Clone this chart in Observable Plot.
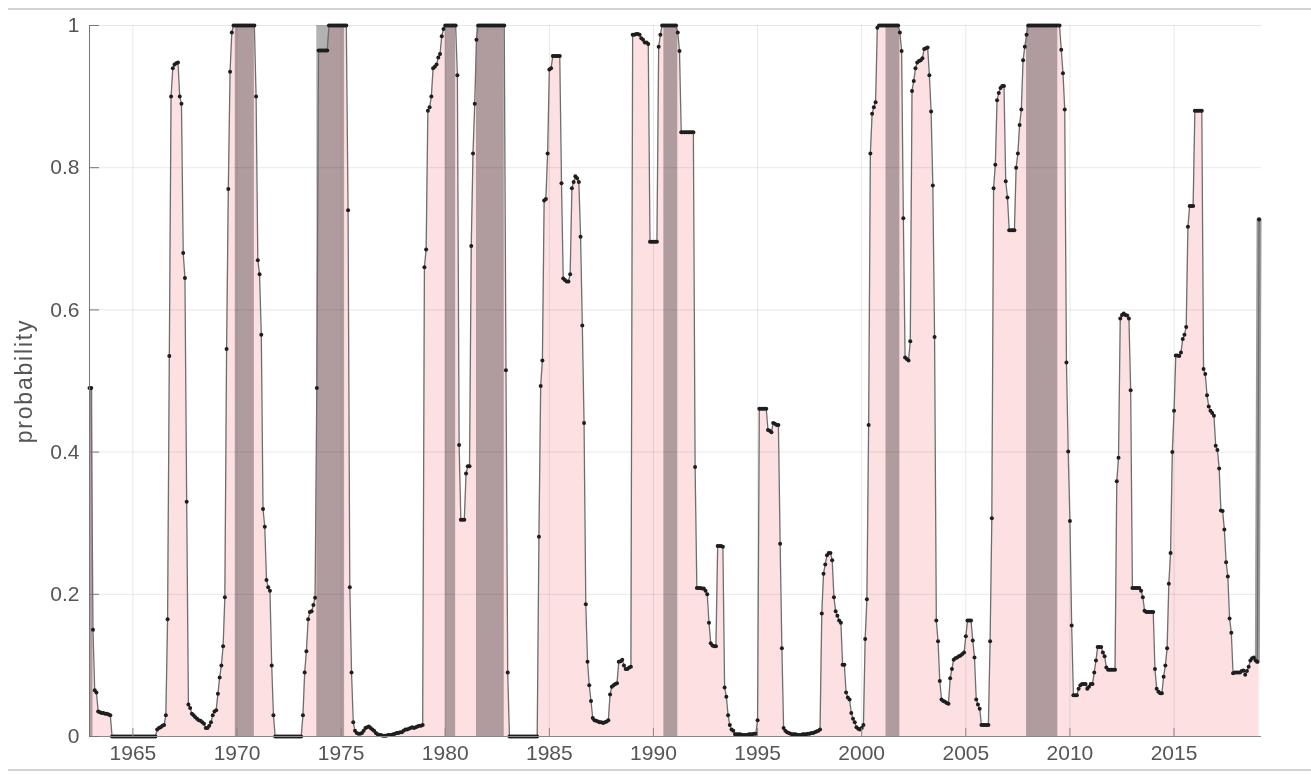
<!DOCTYPE html>
<html><head><meta charset="utf-8">
<script src="https://cdn.jsdelivr.net/npm/d3@7"></script>
<script src="https://cdn.jsdelivr.net/npm/@observablehq/plot@0.6"></script>
<style>
html,body{margin:0;padding:0;background:#fff;}
#wrap{position:relative;width:1311px;height:775px;overflow:hidden;background:#fff;}
.topline{position:absolute;left:8px;right:0;top:8px;height:2px;background:#d2d2d2;}
.botline{position:absolute;left:8px;right:0;top:769px;height:2px;background:#d2d2d2;}
#chart svg g[aria-label="area"]{mix-blend-mode:multiply;}
</style></head><body>
<div id="wrap"><div id="chart"></div><div class="topline"></div><div class="botline"></div></div>
<script>
// monthly recession probability, first value = Dec 1962
const firstMonth = 1962 + 11/12;
const p1960s = [0.49,
  0.49,0.15,0.065,0.062,0.035,0.034,0.033,0.033,0.032,0.032,0.031,0.03,
  0,0,0,0,0,0,0,0,0,0,0,0,
  0,0,0,0,0,0,0,0,0,0,0,0,
  0,0,0.01,0.012,0.013,0.015,0.016,0.03,0.165,0.535,0.9,0.94,
  0.945,0.947,0.948,0.9,0.89,0.68,0.645,0.33,0.045,0.04,0.032,0.03,
  0.027,0.025,0.023,0.022,0.02,0.018,0.012,0.012,0.015,0.02,0.03,0.035,
  0.037,0.06,0.083,0.1,0.127,0.196,0.545,0.77,0.935,0.99,1,1];
const p1970s = [
  1,1,1,1,1,1,1,1,1,1,1,0.9,
  0.67,0.65,0.565,0.32,0.295,0.22,0.21,0.205,0.1,0.03,0,0,
  0,0,0,0,0,0,0,0,0,0,0,0,
  0,0,0.03,0.09,0.12,0.165,0.175,0.176,0.185,0.195,0.49,0.965,
  0.965,0.965,0.965,0.965,0.965,1,1,1,1,1,1,1,
  1,1,1,1,0.74,0.21,0.09,0.02,0.008,0.005,0.004,0.004,
  0.005,0.008,0.012,0.013,0.014,0.012,0.01,0.008,0.005,0.003,0.002,0.002,
  0.001,0.001,0.001,0.002,0.002,0.002,0.003,0.004,0.005,0.005,0.006,0.006,
  0.008,0.01,0.01,0.011,0.012,0.013,0.012,0.013,0.014,0.015,0.015,0.016,
  0.66,0.685,0.88,0.885,0.9,0.94,0.942,0.945,0.955,0.96,0.985,0.995];
const p1980s = [
  1,1,1,1,1,1,1,0.93,0.41,0.305,0.305,0.305,
  0.37,0.38,0.38,0.69,0.82,0.89,0.98,1,1,1,1,1,
  1,1,1,1,1,1,1,1,1,1,1,0.515,
  0.09,0,0,0,0,0,0,0,0,0,0,0,
  0,0,0,0,0,0,0.281,0.493,0.529,0.754,0.756,0.82,
  0.938,0.94,0.957,0.957,0.957,0.957,0.957,0.778,0.644,0.642,0.64,0.64,
  0.65,0.771,0.78,0.788,0.785,0.78,0.703,0.578,0.441,0.186,0.105,0.072,
  0.05,0.026,0.023,0.022,0.021,0.02,0.02,0.019,0.02,0.021,0.023,0.059,
  0.07,0.072,0.074,0.075,0.105,0.106,0.108,0.1,0.095,0.095,0.097,0.098,
  0.987,0.987,0.988,0.988,0.987,0.982,0.98,0.976,0.976,0.974,0.696,0.696];
const p1990s = [
  0.696,0.696,0.696,0.97,0.987,1,1,1,1,1,1,1,
  1,1,0.99,0.964,0.85,0.85,0.85,0.85,0.85,0.85,0.85,0.85,
  0.379,0.209,0.209,0.209,0.208,0.208,0.205,0.2,0.16,0.131,0.128,0.127,
  0.127,0.268,0.268,0.268,0.267,0.069,0.056,0.03,0.016,0.01,0.008,0.003,
  0.003,0.003,0.003,0.002,0.002,0.002,0.002,0.003,0.003,0.003,0.004,0.004,
  0.023,0.461,0.461,0.461,0.461,0.461,0.431,0.43,0.428,0.441,0.44,0.438,
  0.438,0.271,0.124,0.012,0.008,0.006,0.005,0.004,0.003,0.003,0.003,0.002,
  0.002,0.002,0.003,0.003,0.003,0.004,0.004,0.005,0.005,0.006,0.007,0.008,
  0.01,0.173,0.229,0.242,0.255,0.258,0.258,0.248,0.196,0.176,0.17,0.163,
  0.16,0.101,0.101,0.062,0.055,0.052,0.033,0.025,0.02,0.013,0.011,0.01];
const p2000s = [
  0.012,0.016,0.137,0.193,0.438,0.82,0.876,0.885,0.892,0.997,1,1,
  1,1,1,1,1,1,1,1,1,1,0.99,0.964,
  0.729,0.533,0.531,0.529,0.556,0.908,0.922,0.94,0.948,0.95,0.951,0.954,
  0.967,0.968,0.969,0.93,0.879,0.775,0.562,0.163,0.134,0.078,0.052,0.05,
  0.049,0.047,0.046,0.082,0.095,0.108,0.11,0.111,0.113,0.114,0.116,0.118,
  0.141,0.163,0.163,0.163,0.135,0.111,0.052,0.045,0.039,0.016,0.016,0.016,
  0.016,0.016,0.134,0.307,0.771,0.804,0.895,0.905,0.912,0.915,0.915,0.781,
  0.758,0.712,0.712,0.712,0.712,0.8,0.82,0.86,0.882,0.951,0.97,0.987,
  1,1,1,1,1,1,1,1,1,1,1,1,
  1,1,1,1,1,1,1,0.966,0.933,0.882,0.526,0.401];
const p2010s = [
  0.303,0.156,0.058,0.058,0.058,0.067,0.072,0.074,0.074,0.074,0.067,0.07,
  0.074,0.074,0.09,0.107,0.126,0.126,0.126,0.118,0.113,0.097,0.094,0.094,
  0.094,0.094,0.094,0.359,0.392,0.588,0.593,0.595,0.593,0.592,0.588,0.487,
  0.209,0.209,0.209,0.209,0.209,0.205,0.196,0.177,0.175,0.175,0.175,0.175,
  0.175,0.095,0.067,0.063,0.061,0.061,0.084,0.1,0.124,0.215,0.258,0.4,
  0.458,0.536,0.536,0.535,0.54,0.559,0.565,0.576,0.717,0.746,0.746,0.746,
  0.88,0.88,0.88,0.88,0.88,0.517,0.51,0.48,0.464,0.458,0.455,0.451,
  0.409,0.403,0.377,0.318,0.317,0.291,0.245,0.225,0.166,0.146,0.089,0.09,
  0.09,0.09,0.09,0.092,0.093,0.087,0.092,0.098,0.107,0.11,0.111,0.107,
  0.105,0.727];

// NBER recessions (peak month, trough month)
const recStart = [1969+11/12, 1973+10/12, 1980, 1981+6/12, 1990+6/12, 2001+2/12, 2007+11/12];
const recEnd   = [1970+10/12, 1975+2/12, 1980+6/12, 1982+10/12, 1991+2/12, 2001+10/12, 2009+5/12];

const xTicks = [1965,1970,1975,1980,1985,1990,1995,2000,2005,2010,2015];
const xTickLabels = ["1965","1970","1975","1980","1985","1990","1995","2000","2005","2010","2015"];
const yTicks = [0,0.2,0.4,0.6,0.8,1];
const yTickLabels = ["0","0.2","0.4","0.6","0.8","1"];
const xEnd = 2019.2;

const probs = [...p1960s, ...p1970s, ...p1980s, ...p1990s, ...p2000s, ...p2010s];
const series = probs.map((p, i) => ({t: firstMonth + i/12, p}));
const firstOne = series.slice(0, 1);
const lastTwo = series.slice(-2);
const recessions = recStart.map((s, i) => ({start: s, end: recEnd[i]}));

const txt = "#555555";
const chart = Plot.plot({
  width: 1311, height: 775,
  marginLeft: 89, marginRight: 50, marginTop: 25, marginBottom: 39,
  x: {domain: [firstMonth, xEnd]},
  y: {domain: [0, 1]},
  style: {fontFamily: "'Liberation Sans', Arial, Helvetica, sans-serif", background: "transparent"},
  marks: [
    Plot.rect(recessions, {x1: "start", x2: "end", fill: "#b2b2b2"}),
    Plot.rectY(firstOne, {x1: "t", x2: d => d.t + 2/12, y: "p", fill: "#b2b2b2"}),
    Plot.areaY(series, {x: "t", y: "p", fill: "#fce0e2"}),
    Plot.gridX(xTicks, {stroke: "#000", strokeOpacity: 0.09}),
    Plot.gridY(yTicks, {stroke: "#000", strokeOpacity: 0.09}),
    Plot.line(lastTwo, {x: "t", y: "p", stroke: "#9c9c9c", strokeWidth: 5}),
    Plot.line(series, {x: "t", y: "p", stroke: "#6e6e6e", strokeWidth: 1.3}),
    Plot.dot(series, {x: "t", y: "p", r: 2, fill: "#1e1e1e", stroke: "none"}),
    Plot.ruleX([firstMonth], {stroke: "#777"}),
    Plot.ruleY([0], {stroke: "#888"}),
    Plot.axisY(yTicks, {tickSize: -10, tickFormat: () => "", stroke: "#777", label: null}),
    Plot.axisY(yTicks, {tickSize: 0, tickPadding: 10, tickFormat: d => yTickLabels[yTicks.indexOf(d)], fontSize: 21, fill: txt, label: null}),
    Plot.axisX(xTicks, {tickSize: -8, tickFormat: () => "", stroke: "#888", label: null}),
    Plot.axisX(xTicks, {tickSize: 0, tickPadding: 9, tickFormat: d => xTickLabels[xTicks.indexOf(d)], fontSize: 21, fill: txt, label: null}),
    Plot.text(["probability"], {frameAnchor: "left", rotate: -90, dx: -65, fontSize: 23, fill: txt, textAnchor: "middle", lineAnchor: "middle"})
  ]
});
d3.select(chart).selectAll("text")
  .filter(function() { return this.textContent === "probability"; })
  .style("letter-spacing", "1.8px");
document.getElementById("chart").appendChild(chart);
</script>
</body></html>
